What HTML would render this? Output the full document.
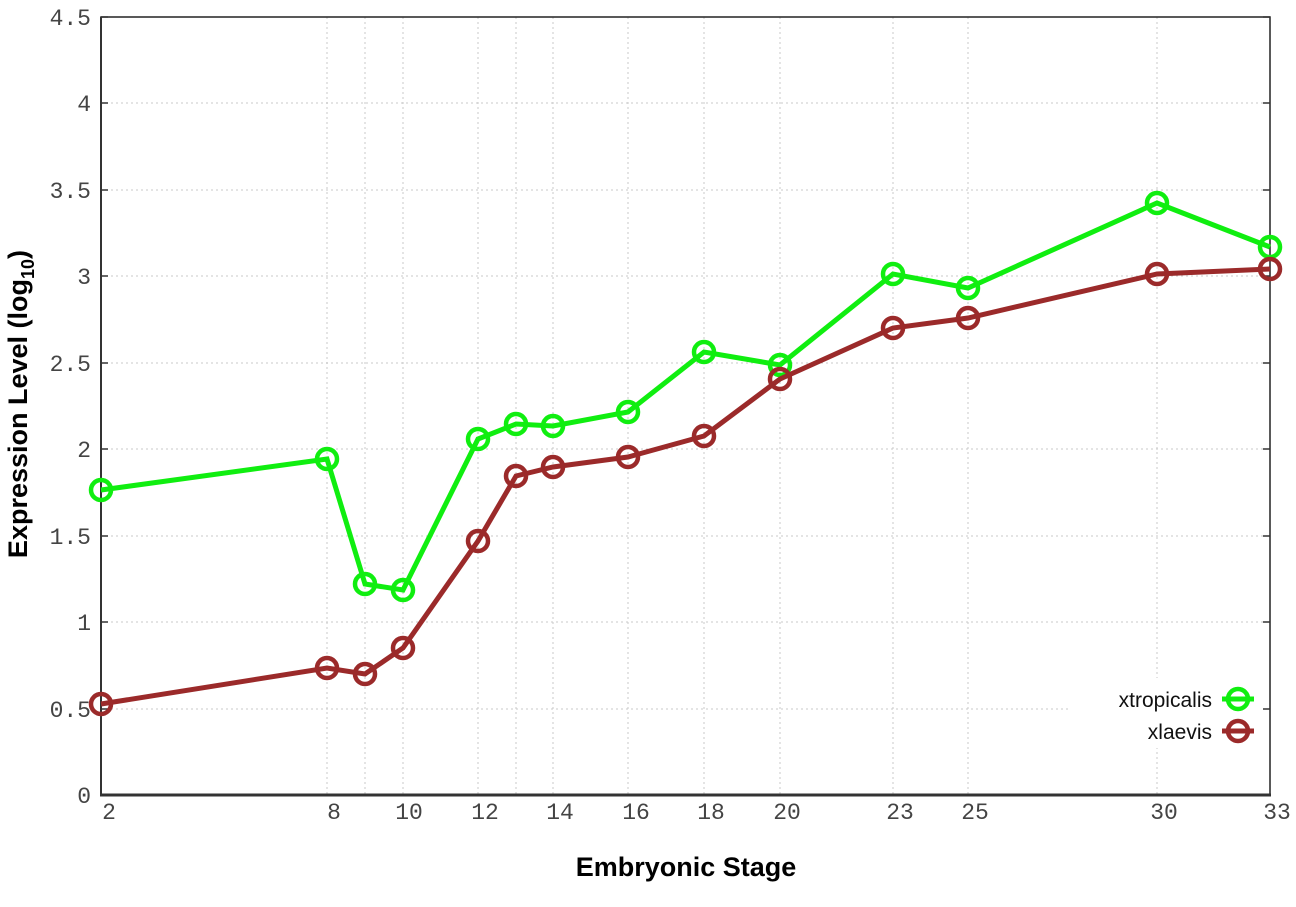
<!DOCTYPE html>
<html><head><meta charset="utf-8"><style>body{margin:0;background:#fff}svg{display:block}</style></head><body>
<svg width="1296" height="907" xmlns="http://www.w3.org/2000/svg">
<rect width="1296" height="907" fill="#fff"/>
<g stroke="#c8c8c8" stroke-width="1" stroke-dasharray="2,3">
<line x1="101" y1="103" x2="1270" y2="103"/><line x1="101" y1="190" x2="1270" y2="190"/><line x1="101" y1="276" x2="1270" y2="276"/><line x1="101" y1="363" x2="1270" y2="363"/><line x1="101" y1="449" x2="1270" y2="449"/><line x1="101" y1="536" x2="1270" y2="536"/><line x1="101" y1="622" x2="1270" y2="622"/><line x1="101" y1="709" x2="1270" y2="709"/>
<line x1="327" y1="17" x2="327" y2="795"/><line x1="365" y1="17" x2="365" y2="795"/><line x1="403" y1="17" x2="403" y2="795"/><line x1="478" y1="17" x2="478" y2="795"/><line x1="516" y1="17" x2="516" y2="795"/><line x1="553" y1="17" x2="553" y2="795"/><line x1="628" y1="17" x2="628" y2="795"/><line x1="704" y1="17" x2="704" y2="795"/><line x1="780" y1="17" x2="780" y2="795"/><line x1="893" y1="17" x2="893" y2="795"/><line x1="968" y1="17" x2="968" y2="795"/><line x1="1157" y1="17" x2="1157" y2="795"/>
</g>
<rect x="1070" y="678" width="195" height="70" fill="#fff"/>
<rect x="101" y="17" width="1169" height="778" fill="none" stroke="#222" stroke-width="1.5"/>
<line x1="100" y1="795" x2="1271" y2="795" stroke="#333" stroke-width="3"/>
<line x1="101" y1="17" x2="101" y2="796" stroke="#333" stroke-width="2"/>
<g stroke="#333" stroke-width="1.5">
<line x1="101" y1="17" x2="108" y2="17"/><line x1="101" y1="103" x2="108" y2="103"/><line x1="101" y1="190" x2="108" y2="190"/><line x1="101" y1="276" x2="108" y2="276"/><line x1="101" y1="363" x2="108" y2="363"/><line x1="101" y1="449" x2="108" y2="449"/><line x1="101" y1="536" x2="108" y2="536"/><line x1="101" y1="622" x2="108" y2="622"/><line x1="101" y1="709" x2="108" y2="709"/>
<line x1="1263" y1="17" x2="1270" y2="17"/><line x1="1263" y1="103" x2="1270" y2="103"/><line x1="1263" y1="190" x2="1270" y2="190"/><line x1="1263" y1="276" x2="1270" y2="276"/><line x1="1263" y1="363" x2="1270" y2="363"/><line x1="1263" y1="449" x2="1270" y2="449"/><line x1="1263" y1="536" x2="1270" y2="536"/><line x1="1263" y1="622" x2="1270" y2="622"/><line x1="1263" y1="709" x2="1270" y2="709"/>
</g>
<g font-family="Liberation Mono, monospace" font-size="23" fill="#444" text-anchor="end">
<text x="91" y="25">4.5</text><text x="91" y="111">4</text><text x="91" y="198">3.5</text><text x="91" y="284">3</text><text x="91" y="371">2.5</text><text x="91" y="457">2</text><text x="91" y="544">1.5</text><text x="91" y="630">1</text><text x="91" y="717">0.5</text><text x="91" y="803">0</text>
</g>
<g font-family="Liberation Mono, monospace" font-size="23" fill="#444" text-anchor="middle">
<text x="109" y="819">2</text><text x="334" y="819">8</text><text x="409" y="819">10</text><text x="485" y="819">12</text><text x="560" y="819">14</text><text x="636" y="819">16</text><text x="711" y="819">18</text><text x="787" y="819">20</text><text x="900" y="819">23</text><text x="975" y="819">25</text><text x="1164" y="819">30</text><text x="1277" y="819">33</text>
</g>
<text x="686" y="876" font-family="Liberation Sans, sans-serif" font-size="27" font-weight="bold" text-anchor="middle">Embryonic Stage</text>
<text transform="translate(27,404) rotate(-90)" font-family="Liberation Sans, sans-serif" font-size="27" font-weight="bold" text-anchor="middle">Expression Level (log<tspan font-size="18" dy="7">10</tspan><tspan dy="-7">)</tspan></text>
<g fill="none" stroke="#10ee10" stroke-width="5">
<polyline points="101,490 327,459 365,584 403,590 478,439 516,424 553,426 628,412 704,352 780,365 893,274 968,288 1157,203 1270,247"/>
<g stroke-width="4.5"><circle cx="101" cy="490" r="10"/><circle cx="327" cy="459" r="10"/><circle cx="365" cy="584" r="10"/><circle cx="403" cy="590" r="10"/><circle cx="478" cy="439" r="10"/><circle cx="516" cy="424" r="10"/><circle cx="553" cy="426" r="10"/><circle cx="628" cy="412" r="10"/><circle cx="704" cy="352" r="10"/><circle cx="780" cy="365" r="10"/><circle cx="893" cy="274" r="10"/><circle cx="968" cy="288" r="10"/><circle cx="1157" cy="203" r="10"/><circle cx="1270" cy="247" r="10"/></g>
<line x1="1222" y1="699" x2="1254" y2="699"/><circle cx="1238" cy="699" r="10" stroke-width="4.5"/>
</g>
<g fill="none" stroke="#9b2a2a" stroke-width="5">
<polyline points="101,704 327,668 365,674 403,648 478,541 516,476 553,467 628,457 704,436 780,379 893,328 968,318 1157,274 1270,269"/>
<g stroke-width="4.5"><circle cx="101" cy="704" r="10"/><circle cx="327" cy="668" r="10"/><circle cx="365" cy="674" r="10"/><circle cx="403" cy="648" r="10"/><circle cx="478" cy="541" r="10"/><circle cx="516" cy="476" r="10"/><circle cx="553" cy="467" r="10"/><circle cx="628" cy="457" r="10"/><circle cx="704" cy="436" r="10"/><circle cx="780" cy="379" r="10"/><circle cx="893" cy="328" r="10"/><circle cx="968" cy="318" r="10"/><circle cx="1157" cy="274" r="10"/><circle cx="1270" cy="269" r="10"/></g>
<line x1="1222" y1="731" x2="1254" y2="731"/><circle cx="1238" cy="731" r="10" stroke-width="4.5"/>
</g>
<g font-family="Liberation Sans, sans-serif" font-size="21" fill="#111" text-anchor="end">
<text x="1212" y="707">xtropicalis</text><text x="1212" y="739">xlaevis</text>
</g>
</svg>
</body></html>
